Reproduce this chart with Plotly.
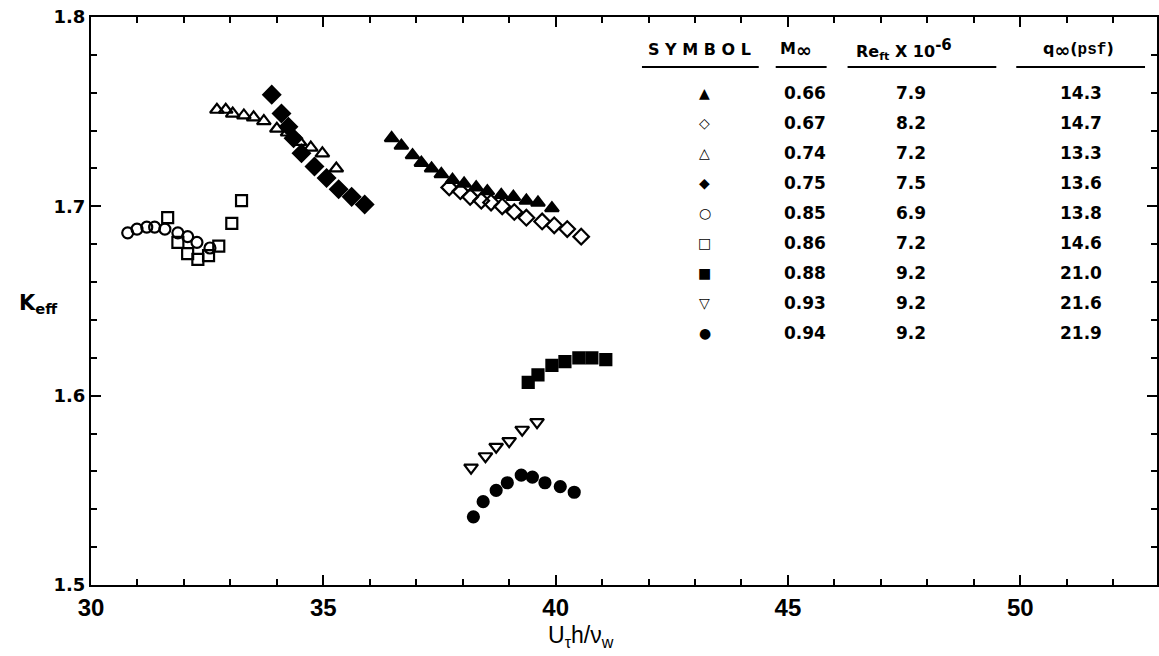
import plotly.graph_objects as go

# ---- data ----
x_066 = [36.47, 36.68, 36.92, 37.11, 37.33, 37.54, 37.78, 38.03, 38.29, 38.53, 38.83, 39.09, 39.37, 39.62, 39.92]
y_066 = [1.736, 1.732, 1.727, 1.723, 1.720, 1.717, 1.714, 1.712, 1.710, 1.708, 1.706, 1.705, 1.703, 1.702, 1.699]

x_067 = [37.71, 37.95, 38.16, 38.40, 38.61, 38.85, 39.11, 39.37, 39.71, 39.97, 40.25, 40.55]
y_067 = [1.710, 1.708, 1.705, 1.703, 1.702, 1.700, 1.697, 1.694, 1.692, 1.690, 1.688, 1.684]

x_074 = [32.71, 32.90, 33.05, 33.29, 33.50, 33.72, 34.00, 34.23, 34.49, 34.73, 34.98, 35.28]
y_074 = [1.751, 1.751, 1.749, 1.748, 1.747, 1.745, 1.741, 1.739, 1.734, 1.731, 1.728, 1.720]

x_075 = [33.89, 34.10, 34.25, 34.36, 34.53, 34.81, 35.07, 35.33, 35.61, 35.89]
y_075 = [1.759, 1.749, 1.742, 1.736, 1.728, 1.721, 1.715, 1.709, 1.705, 1.701]

x_085 = [30.79, 30.99, 31.20, 31.37, 31.59, 31.87, 32.08, 32.28, 32.56]
y_085 = [1.686, 1.688, 1.689, 1.689, 1.688, 1.686, 1.684, 1.681, 1.678]

x_086 = [31.65, 31.87, 32.08, 32.30, 32.53, 32.75, 33.03, 33.24]
y_086 = [1.694, 1.681, 1.675, 1.672, 1.674, 1.679, 1.691, 1.703]

x_088 = [39.41, 39.62, 39.92, 40.20, 40.50, 40.78, 41.08]
y_088 = [1.607, 1.611, 1.616, 1.618, 1.620, 1.620, 1.619]

x_093 = [38.18, 38.49, 38.72, 39.00, 39.28, 39.60]
y_093 = [1.562, 1.568, 1.573, 1.576, 1.582, 1.586]

x_094 = [38.23, 38.44, 38.72, 38.96, 39.26, 39.50, 39.77, 40.10, 40.40]
y_094 = [1.536, 1.544, 1.550, 1.554, 1.558, 1.557, 1.554, 1.552, 1.549]

# legend table
mach = ["0.66", "0.67", "0.74", "0.75", "0.85", "0.86", "0.88", "0.93", "0.94"]
reyn = ["7.9", "8.2", "7.2", "7.5", "6.9", "7.2", "9.2", "9.2", "9.2"]
qinf = ["14.3", "14.7", "13.3", "13.6", "13.8", "14.6", "21.0", "21.6", "21.9"]
glyphs = ["▲", "◇", "△", "◆", "○", "□", "■", "▽", "●"]

series = [
    (x_066, y_066, "triangle-up", 12),
    (x_067, y_067, "diamond-open", 12),
    (x_074, y_074, "triangle-up-open", 12),
    (x_075, y_075, "diamond", 13),
    (x_085, y_085, "circle-open", 11),
    (x_086, y_086, "square-open", 11),
    (x_088, y_088, "square", 11),
    (x_093, y_093, "triangle-down-open", 12),
    (x_094, y_094, "circle", 11),
]

fig = go.Figure()
for (xs, ys, sym, sz), m in zip(series, mach):
    fig.add_trace(go.Scatter(
        x=xs, y=ys, mode="markers", name=m,
        marker=dict(symbol=sym, size=sz, color="black",
                    line=dict(color="black", width=2.2)),
    ))

W, H = 1159, 656
L, R, T, B = 91, 0, 17, 71
pw, ph = W - L - R, H - T - B

def px(xp):
    return (xp - L) / pw

def py(yp):
    return (H - B - yp) / ph

annotations = []
font_t = dict(family="DejaVu Sans", size=17, color="black", weight="bold")
inf = "<span style='font-size:19px'>∞</span>"
# headers
headers = [
    ("S Y M B O L", 701),
    ("M<sub>" + inf + "</sub>", 797),
    ("Re<sub>ft</sub> X 10<sup><span style='font-size:15px'>-6</span></sup>", 906),
    ("q<sub>" + inf + "</sub>(<span style='font-family:Liberation Mono'>psf</span>)", 1080),
]
for txt, xc in headers:
    annotations.append(dict(x=px(xc), y=py(50), xref="paper", yref="paper",
                            text=txt, showarrow=False,
                            font=dict(family="DejaVu Sans", size=16, color="black", weight="bold"),
                            xanchor="center", yanchor="middle"))
# rows
for i in range(len(mach)):
    yy = py(93 + 30 * i)
    annotations.append(dict(x=px(706), y=yy, xref="paper", yref="paper",
                            text=glyphs[i], showarrow=False,
                            font=dict(family="DejaVu Sans", size=14, color="black", weight="bold"),
                            xanchor="center", yanchor="middle"))
    for txt, xc in ((mach[i], 806), (reyn[i], 913), (qinf[i], 1083)):
        annotations.append(dict(x=px(xc), y=yy, xref="paper", yref="paper",
                                text=txt, showarrow=False, font=font_t,
                                xanchor="center", yanchor="middle"))

# axis titles
annotations.append(dict(x=px(582), y=py(636), xref="paper", yref="paper",
                        text="U<sub>τ</sub>h/ν<sub>w</sub>", showarrow=False,
                        font=dict(family="Liberation Sans Narrow, Liberation Sans", size=23, color="black"),
                        xanchor="center", yanchor="middle"))
annotations.append(dict(x=px(38), y=py(304), xref="paper", yref="paper",
                        text="K<sub>eff</sub>", showarrow=False,
                        font=dict(family="DejaVu Sans", size=21, color="black", weight="bold"),
                        xanchor="center", yanchor="middle"))

shapes = []
for x0, x1 in ((643, 760), (777, 828), (849, 998), (1018, 1147)):
    shapes.append(dict(type="line", xref="paper", yref="paper",
                       x0=px(x0), x1=px(x1), y0=py(67), y1=py(67),
                       line=dict(color="black", width=2)))

fig.update_layout(
    width=W, height=H,
    margin=dict(l=L, r=R, t=T, b=B),
    paper_bgcolor="white", plot_bgcolor="white",
    showlegend=False,
    annotations=annotations,
    shapes=shapes,
)
fig.update_xaxes(
    range=[30, 30 + pw / 46.55], tickmode="linear", tick0=30, dtick=5,
    showgrid=False, zeroline=False, showline=True, linecolor="black", linewidth=2,
    mirror="allticks", ticks="inside", ticklen=10, tickwidth=2, tickcolor="black",
    minor=dict(dtick=1, ticks="inside", ticklen=6, tickwidth=1.5, tickcolor="black", showgrid=False),
    tickfont=dict(family="Liberation Sans Narrow, Liberation Sans", size=24, color="black", weight="bold"),
)
fig.update_yaxes(
    range=[1.5, 1.8], tickmode="linear", tick0=1.5, dtick=0.1, tickformat=".1f",
    showgrid=False, zeroline=False, showline=True, linecolor="black", linewidth=2,
    mirror="allticks", ticks="inside", ticklen=10, tickwidth=2, tickcolor="black",
    minor=dict(dtick=0.02, ticks="inside", ticklen=6, tickwidth=1.5, tickcolor="black", showgrid=False),
    tickfont=dict(family="DejaVu Sans", size=18, color="black", weight="bold"),
)

fig.write_html("out.html")
